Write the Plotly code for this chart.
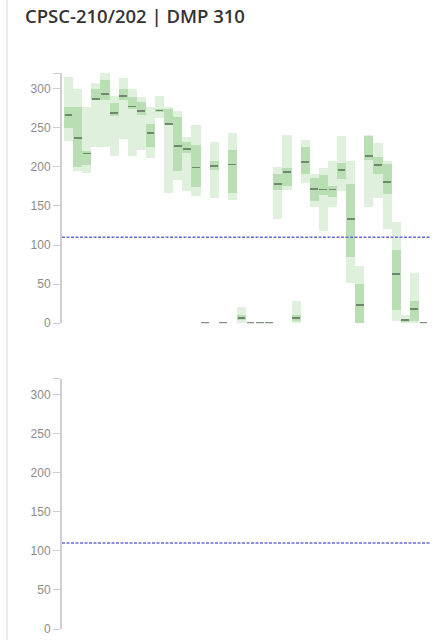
import plotly.graph_objects as go

# Weekly distribution per slot: min, lower quartile, median, upper quartile, max
slots = list(range(40))
lows = [233, 195, 192, 226, 226, 214, 236, 214, 221, 211, 262, 167, 183, 169, 163,
        0, 160, 0, 157, 0, 0, 0, 0, 133, 170, 0, 179, 149, 118, 148,
        169, 51, 0, 149, 160, 120, 3, 0, 0, 0]
q1s = [250, 200, 202, 286, 285, 265, 286, 274, 266, 225, 270, 254, 195, 218, 174,
       0, 196, 0, 167, 4, 0, 0, 0, 170, 175, 3, 191, 156, 164, 161,
       185, 85, 0, 209, 191, 165, 17, 2, 3, 0]
medians = [266, 237, 217, 287, 293, 269, 291, 277, 271, 243, 272, 255, 227, 223, 199,
           0, 201, 0, 203, 7, 0, 0, 0, 178, 193, 7, 206, 172, 171, 171,
           196, 133, 23, 214, 202, 181, 63, 4, 18, 0]
q3s = [277, 277, 220, 300, 311, 281, 300, 289, 283, 255, 274, 274, 264, 232, 228,
       0, 207, 0, 221, 10, 0, 0, 0, 191, 198, 11, 225, 186, 189, 176,
       205, 178, 50, 240, 212, 204, 93, 6, 29, 0]
highs = [315, 300, 276, 307, 320, 290, 313, 299, 289, 276, 290, 277, 272, 238, 254,
         0, 232, 0, 243, 21, 0, 0, 0, 200, 241, 28, 234, 191, 199, 208,
         239, 208, 73, 241, 231, 208, 130, 11, 64, 0]

threshold = 110
y_ticks = [0, 50, 100, 150, 200, 250, 300, 320]
y_tick_text = ["0", "50", "100", "150", "200", "250", "300", ""]
title_text = "CPSC-210/202 | DMP 310"

LIGHT = "#dff0dc"
DARK = "#b9deb3"
MEDIAN = "rgba(80,100,80,0.7)"
LINE_W = 2.2  # median stroke thickness in data units

fig = go.Figure()

# full range (min to max)
fig.add_trace(go.Bar(
    x=slots, y=[h - l for h, l in zip(highs, lows)], base=lows,
    width=1.0, marker=dict(color=LIGHT, line=dict(width=0)),
    xaxis="x", yaxis="y", hoverinfo="skip", showlegend=False))

# interquartile range
fig.add_trace(go.Bar(
    x=slots, y=[b - a for a, b in zip(q1s, q3s)], base=q1s,
    width=1.0, marker=dict(color=DARK, line=dict(width=0)),
    xaxis="x", yaxis="y", hoverinfo="skip", showlegend=False))

# median strokes
fig.add_trace(go.Bar(
    x=slots, y=[LINE_W] * len(slots), base=[m - LINE_W / 2 for m in medians],
    width=0.86, marker=dict(color=MEDIAN, line=dict(width=0)),
    xaxis="x", yaxis="y", hoverinfo="skip", showlegend=False))

# empty lower panel
fig.add_trace(go.Scatter(x=[], y=[], xaxis="x2", yaxis="y2",
                         showlegend=False, hoverinfo="skip"))

x_range = [-0.72, 39.72]
y_axis_style = dict(
    range=[0, 320], showline=True, linecolor="#cfcfcf", linewidth=2,
    ticks="outside", ticklen=7, tickwidth=1, tickcolor="#cfcfcf",
    tickvals=y_ticks, ticktext=y_tick_text,
    tickfont=dict(size=12, color="#8c8c8c", family="Liberation Sans, Arial, sans-serif"),
    showgrid=False, zeroline=False, fixedrange=True)
x_axis_style = dict(range=x_range, visible=False, showgrid=False, zeroline=False,
                    fixedrange=True)

fig.update_layout(
    width=436, height=642,
    margin=dict(l=62, r=6, t=73, b=8),
    paper_bgcolor="white", plot_bgcolor="white",
    barmode="overlay", bargap=0,
    xaxis=dict(domain=[0, 1], anchor="y", **x_axis_style),
    yaxis=dict(domain=[0.55, 1.0], anchor="x", **y_axis_style),
    xaxis2=dict(domain=[0, 1], anchor="y2", **x_axis_style),
    yaxis2=dict(domain=[0.0, 0.45], anchor="x2", **y_axis_style),
    title=dict(text=title_text, xref="container", yref="container",
               x=25 / 436, y=1 - 16.5 / 642, xanchor="left", yanchor="middle",
               font=dict(size=18.5, color="#333333", weight=600,
                         family="Open Sans, Liberation Sans, sans-serif")),
    shapes=[
        # target line, upper panel
        dict(type="line", xref="x domain", yref="y", x0=0, x1=1,
             y0=threshold, y1=threshold,
             line=dict(color="#6a6ad6", width=1.5, dash="3px,1.5px")),
        # target line, lower panel
        dict(type="line", xref="x2 domain", yref="y2", x0=0, x1=1,
             y0=threshold, y1=threshold,
             line=dict(color="#6a6ad6", width=1.5, dash="3px,1.5px")),
        # page border on the left
        dict(type="line", xref="paper", yref="paper",
             x0=(7 - 62) / 368, x1=(7 - 62) / 368, y0=-0.02, y1=1.14,
             line=dict(color="#ebebeb", width=2)),
    ],
)

fig.write_html("out.html")
